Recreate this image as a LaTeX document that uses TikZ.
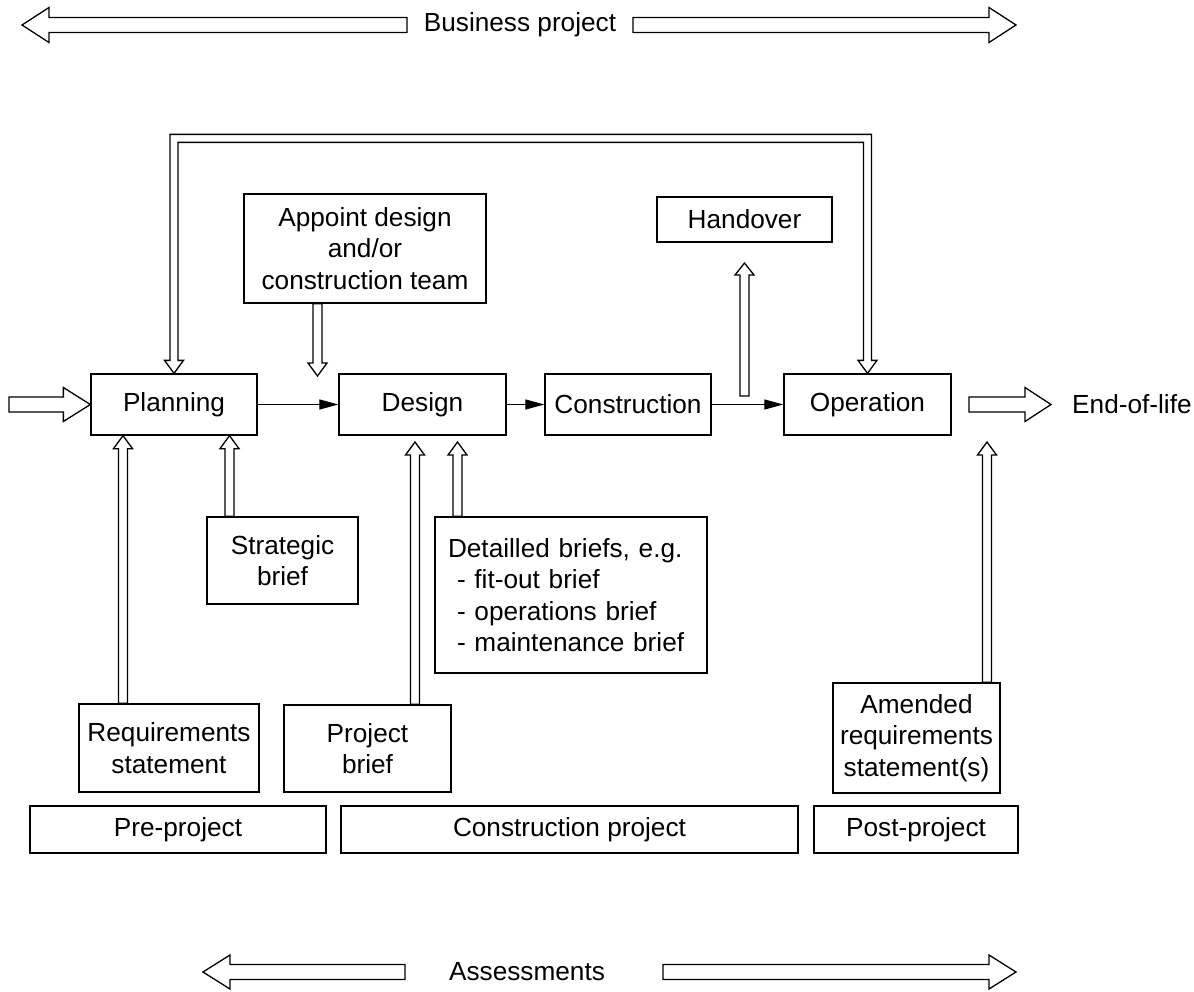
\documentclass[tikz,border=0pt]{standalone}
\usepackage{fontspec}
\setmainfont{Liberation Sans}
\usetikzlibrary{calc,arrows.meta}

\newcommand{\diagfont}{\fontsize{26.2}{31.5}\selectfont}
% outlined block arrow: #1 tail, #2 tip, #3 shaft half-width, #4 head half-width, #5 head length
\newcommand{\hollowarrow}[5]{%
  \path ($(#2)!#5!(#1)$) coordinate (ha-base);
  \draw[hollow] ($(#1)!#3!90:(#2)$) -- ($(ha-base)!#3!90:(#2)$)
    -- ($(ha-base)!#4!90:(#2)$) -- (#2) -- ($(ha-base)!#4!-90:(#2)$)
    -- ($(ha-base)!#3!-90:(#2)$) -- ($(#1)!#3!-90:(#2)$) -- cycle;%
}

\begin{document}
\begin{tikzpicture}[x=1pt,y=-1pt,
  every node/.style={font=\diagfont},
  box/.style={draw, line width=1.3pt, align=center, inner sep=0pt},
  sz/.style 2 args={minimum width=#1pt, minimum height=#2pt},
  hollow/.style={draw, fill=white, line width=1.3pt, line join=miter},
  flow/.style={-{Triangle[length=19pt,width=10pt]}, line width=1.2pt}]
\useasboundingbox (0,0) rectangle (1194,991);

% main process chain
\node[box, sz={166}{61}] (plan) at (174,404.5) {Planning};
\node[box, sz={167}{61}] (design) at (422.5,404.5) {Design};
\node[box, sz={166}{61}] (constr) at (628,404.5) {Construction};
\node[box, sz={167}{61}] (oper) at (867.5,404.5) {Operation};

% inputs and outputs
\node[box, sz={242}{109}] (appoint) at (365,248.5) {Appoint design\\and/or\\construction team};
\node[box, sz={175}{45}] (handover) at (744.5,219.5) {Handover};
\node[box, sz={151}{87}] (strategic) at (282.5,560.5) {Strategic\\brief};
\node[box, sz={272}{156}, text width=246pt, inner xsep=13pt, align=left] (detailed) at (571,595)
  {Detailled briefs, e.g.\\\hspace*{9pt}- fit-out brief\\\hspace*{9pt}- operations brief\\\hspace*{9pt}- maintenance brief};
\node[box, sz={180}{88}] (req) at (169,748) {Requirements\\statement};
\node[box, sz={167}{87}] (pbrief) at (367.5,748.5) {Project\\brief};
\node[box, sz={167}{110}] (amended) at (916.5,738) {Amended\\requirements\\statement(s)};

% phases
\node[box, sz={296}{47}] (pre) at (178,829.5) {Pre-project};
\node[box, sz={457}{47}] (cproj) at (569.5,829.5) {Construction project};
\node[box, sz={204}{47}] (post) at (916,829.5) {Post-project};

% span labels
\node (bp) at (520,25) {Business project};
\node (as) at (527,972) {Assessments};
\node[anchor=west, inner sep=0pt] (eol) at (1072,404.5) {End-of-life};

% flow between stages
\draw[flow] (plan) -- (design);
\draw[flow] (design) -- (constr);
\draw[flow] (constr) -- (oper);

% entry and end-of-life arrows
\coordinate (inS) at (9,404.5);
\hollowarrow{inS}{plan.west}{7.5pt}{17pt}{27pt}
\coordinate (eolS) at (969,404.5);
\coordinate (eolT) at (1051,404.5);
\hollowarrow{eolS}{eolT}{7.5pt}{17pt}{26pt}

% handover and team appointment
\coordinate (hoS) at (744.5,396);
\coordinate (hoT) at (744.5,263);
\hollowarrow{hoS}{hoT}{4.5pt}{9.5pt}{12pt}
\coordinate (apS) at (317.5,0 |- appoint.south);
\coordinate (apT) at (317.5,376);
\hollowarrow{apS}{apT}{4.5pt}{9.5pt}{13pt}

% briefs feeding the stages
\coordinate (rqS) at (123,0 |- req.north);
\coordinate (rqT) at (123,0 |- plan.south);
\hollowarrow{rqS}{rqT}{4.5pt}{9.5pt}{13pt}
\coordinate (sbS) at (229.5,0 |- strategic.north);
\coordinate (sbT) at (229.5,0 |- plan.south);
\hollowarrow{sbS}{sbT}{4.5pt}{9.5pt}{13pt}
\coordinate (pbS) at (415,0 |- pbrief.north);
\coordinate (pbT) at (415,442);
\hollowarrow{pbS}{pbT}{4.5pt}{9.5pt}{13pt}
\coordinate (dbS) at (457.5,0 |- detailed.north);
\coordinate (dbT) at (457.5,442);
\hollowarrow{dbS}{dbT}{4.5pt}{9.5pt}{13pt}
\coordinate (amS) at (987,0 |- amended.north);
\coordinate (amT) at (987,442);
\hollowarrow{amS}{amT}{4.5pt}{9.5pt}{13pt}

% feedback loop between operation and planning
\draw[hollow] (plan.north) -- ++(-9.5,-13) -- ++(5.5,0) -- ++(0,-226) -- ++(701.5,0)
  -- ++(0,226) -- ++(5.5,0) -- (oper.north) -- ++(-9.5,-13) -- ++(5.5,0)
  -- ++(0,-218) -- ++(-685.5,0) -- ++(0,218) -- ++(5.5,0) -- cycle;

% business project span
\coordinate (bpL1) at (407,25);
\coordinate (bpL2) at (22,25);
\coordinate (bpR1) at (633,25);
\coordinate (bpR2) at (1016,25);
\hollowarrow{bpL1}{bpL2}{7.5pt}{17.5pt}{27pt}
\hollowarrow{bpR1}{bpR2}{7.5pt}{17.5pt}{27pt}

% assessments span
\coordinate (asL1) at (405,972);
\coordinate (asL2) at (203,972);
\coordinate (asR1) at (663,972);
\coordinate (asR2) at (1016,972);
\hollowarrow{asL1}{asL2}{7.5pt}{17pt}{27pt}
\hollowarrow{asR1}{asR2}{7.5pt}{17pt}{27pt}
\end{tikzpicture}
\end{document}
